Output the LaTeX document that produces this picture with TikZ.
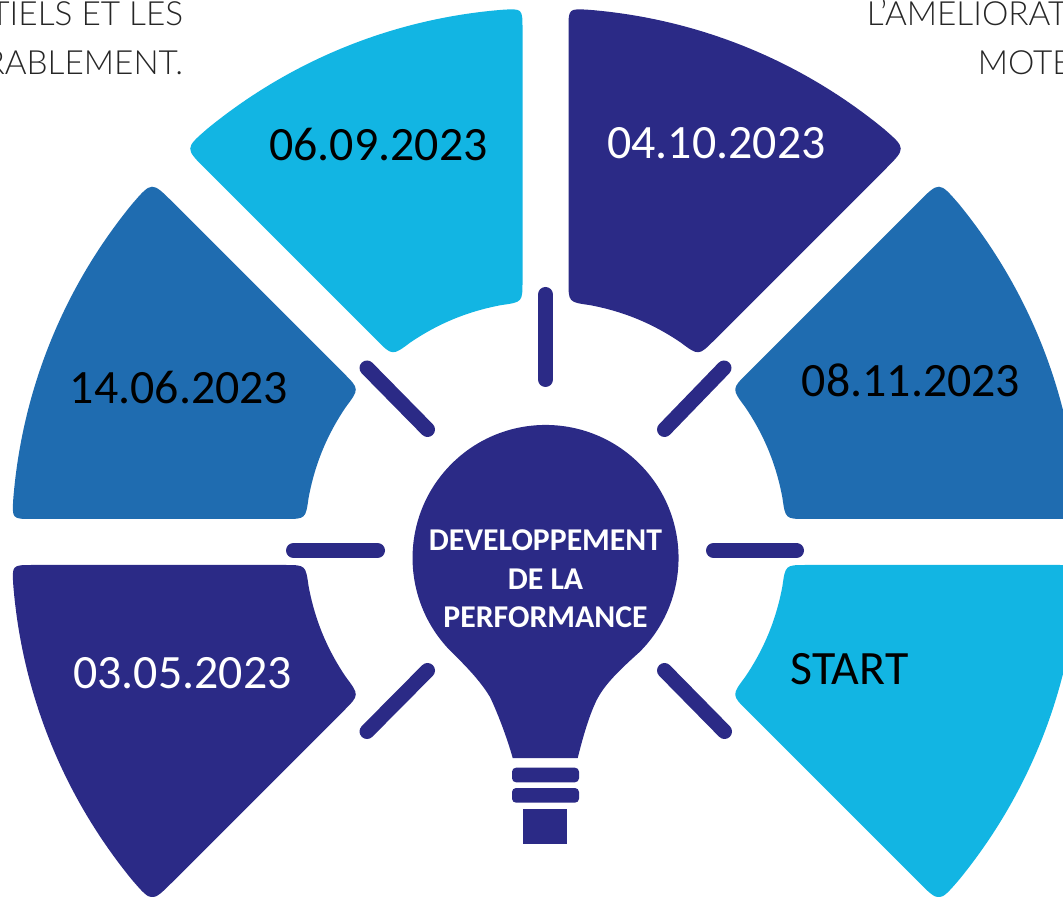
\documentclass[tikz,border=0pt]{standalone}
\usepackage{fontspec}
\setmainfont{Carlito}
\newfontfamily\toplabelfont{Lato Light}
\definecolor{sky}{HTML}{12B5E3}
\definecolor{navy}{HTML}{2B2A86}
\definecolor{midblue}{HTML}{1F6CB0}
\newcommand{\petalpath}{%
  (-23,513) .. controls (-23,533.5) .. (94.7:534)
  .. controls +(184.7:108.7) and +(39.3:108.7) .. (129.3:534)
  .. controls (-360.7,393.7) .. (-339.7,372.7)
  -- (-168.6,201.6)
  .. controls (-153.1,186.1) .. (124:241)
  .. controls +(34:34) and +(190.5:34) .. (100.5:241)
  .. controls (-23,239.9) .. (-23,261) -- cycle}
\tikzset{
  tickbar/.style={draw=navy,line width=11.25pt,line cap=round},
  datelabel/.style={font=\fontsize{35.9pt}{40pt}\selectfont,anchor=base,inner sep=0pt},
  toplabel/.style={font=\fontsize{25pt}{29pt}\toplabelfont,anchor=base,inner sep=0pt,text=black!85},
  centrelabel/.style={font=\fontsize{23.8pt}{28pt}\selectfont\bfseries,text=white,anchor=base,inner sep=0pt},
}
\begin{document}
\begin{tikzpicture}[x=0.75pt,y=0.75pt]
\useasboundingbox (0,0) rectangle (1063,896);
\clip (0,0) rectangle (1063,896);
\begin{scope}[shift={(545.5,354)}]
  \begin{scope}[cm={1,0,0,1,(0,0)}]  \fill[sky] \petalpath; \end{scope}
  \begin{scope}[cm={-1,0,0,1,(0,0)}] \fill[navy] \petalpath; \end{scope}
  \begin{scope}[cm={0,-1,-1,0,(0,0)}]\fill[midblue] \petalpath; \end{scope}
  \begin{scope}[cm={0,1,-1,0,(0,0)}] \fill[navy] \petalpath; \end{scope}
  \begin{scope}[cm={0,1,1,0,(0,0)}]  \fill[sky] \petalpath; \end{scope}
  \begin{scope}[cm={0,-1,1,0,(0,0)}] \fill[midblue] \petalpath; \end{scope}
\end{scope}
% rays
\draw[tickbar] (545.5,601.5) -- (545.5,516.5);
\draw[tickbar] (293.5,345.5) -- (377.5,345.5);
\draw[tickbar] (713.5,345.5) -- (796.5,345.5);
\draw[tickbar] (367,528) -- (427.5,466.5);
\draw[tickbar] (724,528) -- (664.5,466.5);
\draw[tickbar] (427.5,225.5) -- (367,164.5);
\draw[tickbar] (664.5,225.5) -- (724.5,164.5);
% bulb
\fill[navy] (451.5,244) arc[start angle=225,end angle=-45,radius=133]
  .. controls (615,222) and (604,210) .. (596.7,196)
  .. controls (588,178) and (582,155) .. (577.7,138)
  -- (512.7,138)
  .. controls (508,155) and (499,180) .. (490,199)
  .. controls (482,212) and (472,224) .. cycle;
\fill[navy,rounded corners=3pt] (512,113.7) rectangle (579,128.3);
\fill[navy,rounded corners=3pt] (512,93.3) rectangle (579,108);
\fill[navy] (523,52) rectangle (567,87);
% labels
\node[datelabel,text=black] (d1) at (378.5,735.5) {06.09.2023};
\node[datelabel,text=white] (d2) at (716.5,737.5) {04.10.2023};
\node[datelabel,text=black] (d3) at (911,499.5) {08.11.2023};
\node[datelabel,text=black] (d4) at (179,492.5) {14.06.2023};
\node[datelabel,text=white] (d5) at (182.5,207.5) {03.05.2023};
\node[datelabel,text=black] (d6) at (849.5,211.5) {START};
\node[centrelabel] (c1) at (545.5,345) {DEVELOPPEMENT};
\node[centrelabel] (c2) at (545.5,306) {DE LA};
\node[centrelabel] (c3) at (545.5,268) {PERFORMANCE};
\node[toplabel,anchor=base east] (t1) at (183.5,870) {TIELS ET LES};
\node[toplabel,anchor=base east] (t2) at (183.5,821) {RABLEMENT.};
\node[toplabel,anchor=base west] (t3) at (866.5,870) {L’AMELIORAT};
\node[toplabel,anchor=base west] (t4) at (977.5,821) {MOTE};
\end{tikzpicture}
\end{document}
